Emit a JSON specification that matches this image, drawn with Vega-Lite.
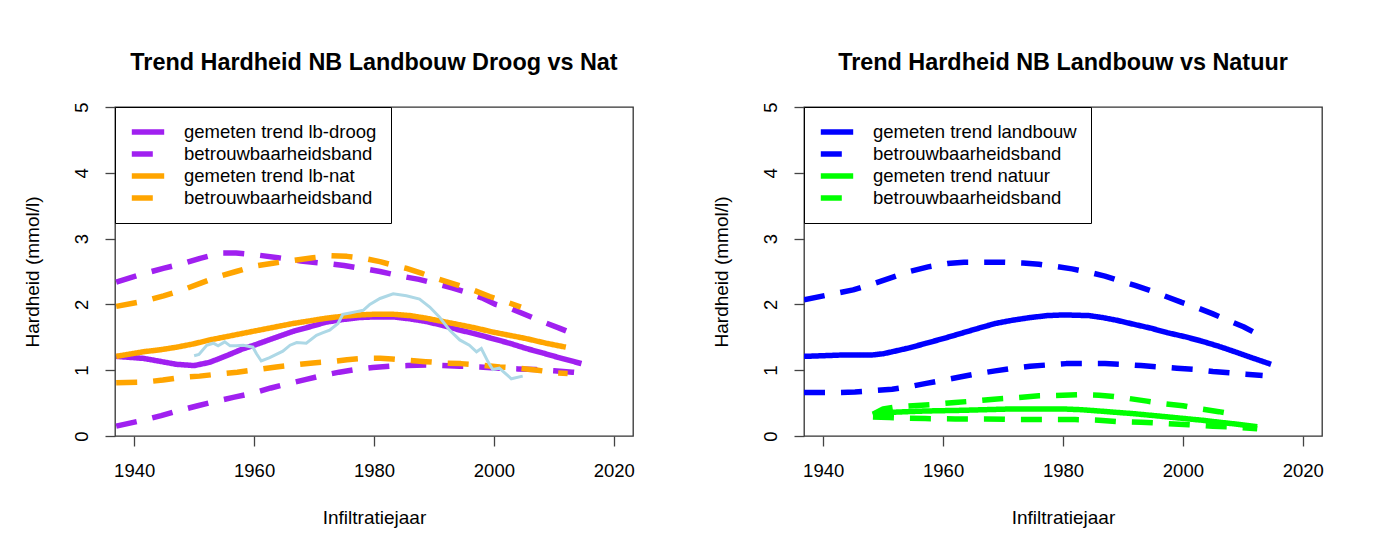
{
  "$schema": "https://vega.github.io/schema/vega-lite/v6.json",
  "background": "white",
  "padding": {"left": 22, "top": 50, "right": 5, "bottom": 5},
  "spacing": 75,
  "config": {
    "font": "Liberation Sans",
    "view": {"stroke": "#333", "strokeWidth": 1.3},
    "axis": {
      "grid": false, "domain": false, "tickSize": 10, "tickColor": "#444", "tickWidth": 1.3,
      "labelFontSize": 18.5, "labelColor": "black", "titleFontSize": 19, "titleFontWeight": "normal",
      "titleColor": "black", "labelFlush": false, "labelFont": "Liberation Sans", "titleFont": "Liberation Sans"
    },
    "legend": {
      "orient": "top-left", "offset": 0, "strokeColor": "black", "fillColor": "white",
      "padding": 14, "labelFontSize": 18.5, "labelFont": "Liberation Sans", "symbolType": "stroke",
      "symbolStrokeWidth": 5.5, "symbolSize": 1050, "rowPadding": 0, "clipHeight": 22, "labelOffset": 17, "labelLimit": 400
    },
    "title": {"fontSize": 23.4, "fontWeight": "bold", "font": "Liberation Sans", "anchor": "middle", "frame": "group", "baseline": "alphabetic", "offset": 26, "color": "black"}
  },
  "datasets": {
    "left": [
      {"line": "droog_trend", "s": "gemeten trend lb-droog", "x": 1937, "y": 1.21},
      {"line": "droog_trend", "s": "gemeten trend lb-droog", "x": 1941.5, "y": 1.18},
      {"line": "droog_trend", "s": "gemeten trend lb-droog", "x": 1944, "y": 1.14},
      {"line": "droog_trend", "s": "gemeten trend lb-droog", "x": 1947, "y": 1.09},
      {"line": "droog_trend", "s": "gemeten trend lb-droog", "x": 1950, "y": 1.07},
      {"line": "droog_trend", "s": "gemeten trend lb-droog", "x": 1952.6, "y": 1.12},
      {"line": "droog_trend", "s": "gemeten trend lb-droog", "x": 1955.4, "y": 1.22},
      {"line": "droog_trend", "s": "gemeten trend lb-droog", "x": 1958, "y": 1.32},
      {"line": "droog_trend", "s": "gemeten trend lb-droog", "x": 1960, "y": 1.38},
      {"line": "droog_trend", "s": "gemeten trend lb-droog", "x": 1963.7, "y": 1.5},
      {"line": "droog_trend", "s": "gemeten trend lb-droog", "x": 1966.5, "y": 1.59},
      {"line": "droog_trend", "s": "gemeten trend lb-droog", "x": 1969.3, "y": 1.66},
      {"line": "droog_trend", "s": "gemeten trend lb-droog", "x": 1972, "y": 1.73},
      {"line": "droog_trend", "s": "gemeten trend lb-droog", "x": 1974.8, "y": 1.77},
      {"line": "droog_trend", "s": "gemeten trend lb-droog", "x": 1977.6, "y": 1.8},
      {"line": "droog_trend", "s": "gemeten trend lb-droog", "x": 1980, "y": 1.81},
      {"line": "droog_trend", "s": "gemeten trend lb-droog", "x": 1983.2, "y": 1.81},
      {"line": "droog_trend", "s": "gemeten trend lb-droog", "x": 1986, "y": 1.78},
      {"line": "droog_trend", "s": "gemeten trend lb-droog", "x": 1988.7, "y": 1.74},
      {"line": "droog_trend", "s": "gemeten trend lb-droog", "x": 1991.5, "y": 1.68},
      {"line": "droog_trend", "s": "gemeten trend lb-droog", "x": 1994.3, "y": 1.61},
      {"line": "droog_trend", "s": "gemeten trend lb-droog", "x": 1997, "y": 1.55},
      {"line": "droog_trend", "s": "gemeten trend lb-droog", "x": 1999.8, "y": 1.48},
      {"line": "droog_trend", "s": "gemeten trend lb-droog", "x": 2002.6, "y": 1.41},
      {"line": "droog_trend", "s": "gemeten trend lb-droog", "x": 2005.4, "y": 1.33},
      {"line": "droog_trend", "s": "gemeten trend lb-droog", "x": 2008.2, "y": 1.26},
      {"line": "droog_trend", "s": "gemeten trend lb-droog", "x": 2010.9, "y": 1.19},
      {"line": "droog_trend", "s": "gemeten trend lb-droog", "x": 2014.6, "y": 1.1},

      {"line": "droog_upper", "s": "betrouwbaarheidsband 1", "x": 1937, "y": 2.34},
      {"line": "droog_upper", "s": "betrouwbaarheidsband 1", "x": 1941.7, "y": 2.47},
      {"line": "droog_upper", "s": "betrouwbaarheidsband 1", "x": 1945, "y": 2.55},
      {"line": "droog_upper", "s": "betrouwbaarheidsband 1", "x": 1948.1, "y": 2.62},
      {"line": "droog_upper", "s": "betrouwbaarheidsband 1", "x": 1951, "y": 2.7},
      {"line": "droog_upper", "s": "betrouwbaarheidsband 1", "x": 1954.5, "y": 2.78},
      {"line": "droog_upper", "s": "betrouwbaarheidsband 1", "x": 1957, "y": 2.78},
      {"line": "droog_upper", "s": "betrouwbaarheidsband 1", "x": 1960.6, "y": 2.75},
      {"line": "droog_upper", "s": "betrouwbaarheidsband 1", "x": 1964, "y": 2.71},
      {"line": "droog_upper", "s": "betrouwbaarheidsband 1", "x": 1967.8, "y": 2.66},
      {"line": "droog_upper", "s": "betrouwbaarheidsband 1", "x": 1972.2, "y": 2.62},
      {"line": "droog_upper", "s": "betrouwbaarheidsband 1", "x": 1975, "y": 2.59},
      {"line": "droog_upper", "s": "betrouwbaarheidsband 1", "x": 1977.8, "y": 2.55},
      {"line": "droog_upper", "s": "betrouwbaarheidsband 1", "x": 1981, "y": 2.5},
      {"line": "droog_upper", "s": "betrouwbaarheidsband 1", "x": 1984.5, "y": 2.43},
      {"line": "droog_upper", "s": "betrouwbaarheidsband 1", "x": 1987.5, "y": 2.38},
      {"line": "droog_upper", "s": "betrouwbaarheidsband 1", "x": 1990.1, "y": 2.32},
      {"line": "droog_upper", "s": "betrouwbaarheidsband 1", "x": 1993, "y": 2.25},
      {"line": "droog_upper", "s": "betrouwbaarheidsband 1", "x": 1995.3, "y": 2.19},
      {"line": "droog_upper", "s": "betrouwbaarheidsband 1", "x": 1998, "y": 2.1},
      {"line": "droog_upper", "s": "betrouwbaarheidsband 1", "x": 2000.3, "y": 2.0},
      {"line": "droog_upper", "s": "betrouwbaarheidsband 1", "x": 2003, "y": 1.93},
      {"line": "droog_upper", "s": "betrouwbaarheidsband 1", "x": 2005.4, "y": 1.84},
      {"line": "droog_upper", "s": "betrouwbaarheidsband 1", "x": 2008, "y": 1.74},
      {"line": "droog_upper", "s": "betrouwbaarheidsband 1", "x": 2010.9, "y": 1.64},
      {"line": "droog_upper", "s": "betrouwbaarheidsband 1", "x": 2012.5, "y": 1.58},

      {"line": "droog_lower", "s": "betrouwbaarheidsband 1", "x": 1937, "y": 0.15},
      {"line": "droog_lower", "s": "betrouwbaarheidsband 1", "x": 1941.5, "y": 0.24},
      {"line": "droog_lower", "s": "betrouwbaarheidsband 1", "x": 1944.5, "y": 0.31},
      {"line": "droog_lower", "s": "betrouwbaarheidsband 1", "x": 1947.6, "y": 0.39},
      {"line": "droog_lower", "s": "betrouwbaarheidsband 1", "x": 1950.6, "y": 0.46},
      {"line": "droog_lower", "s": "betrouwbaarheidsband 1", "x": 1953.7, "y": 0.53},
      {"line": "droog_lower", "s": "betrouwbaarheidsband 1", "x": 1956.7, "y": 0.59},
      {"line": "droog_lower", "s": "betrouwbaarheidsband 1", "x": 1959.8, "y": 0.65},
      {"line": "droog_lower", "s": "betrouwbaarheidsband 1", "x": 1962.8, "y": 0.73},
      {"line": "droog_lower", "s": "betrouwbaarheidsband 1", "x": 1965.9, "y": 0.8},
      {"line": "droog_lower", "s": "betrouwbaarheidsband 1", "x": 1968.7, "y": 0.86},
      {"line": "droog_lower", "s": "betrouwbaarheidsband 1", "x": 1971.4, "y": 0.92},
      {"line": "droog_lower", "s": "betrouwbaarheidsband 1", "x": 1974.2, "y": 0.97},
      {"line": "droog_lower", "s": "betrouwbaarheidsband 1", "x": 1977, "y": 1.01},
      {"line": "droog_lower", "s": "betrouwbaarheidsband 1", "x": 1979.8, "y": 1.04},
      {"line": "droog_lower", "s": "betrouwbaarheidsband 1", "x": 1982.6, "y": 1.06},
      {"line": "droog_lower", "s": "betrouwbaarheidsband 1", "x": 1985.6, "y": 1.07},
      {"line": "droog_lower", "s": "betrouwbaarheidsband 1", "x": 1988.7, "y": 1.08},
      {"line": "droog_lower", "s": "betrouwbaarheidsband 1", "x": 1991.5, "y": 1.07},
      {"line": "droog_lower", "s": "betrouwbaarheidsband 1", "x": 1994.3, "y": 1.06},
      {"line": "droog_lower", "s": "betrouwbaarheidsband 1", "x": 1997.6, "y": 1.05},
      {"line": "droog_lower", "s": "betrouwbaarheidsband 1", "x": 2000.9, "y": 1.03},
      {"line": "droog_lower", "s": "betrouwbaarheidsband 1", "x": 2004, "y": 1.02},
      {"line": "droog_lower", "s": "betrouwbaarheidsband 1", "x": 2007, "y": 1.01},
      {"line": "droog_lower", "s": "betrouwbaarheidsband 1", "x": 2010, "y": 0.99},
      {"line": "droog_lower", "s": "betrouwbaarheidsband 1", "x": 2013.1, "y": 0.97},
      {"line": "droog_lower", "s": "betrouwbaarheidsband 1", "x": 2014.3, "y": 0.96},

      {"line": "nat_trend", "s": "gemeten trend lb-nat", "x": 1937, "y": 1.21},
      {"line": "nat_trend", "s": "gemeten trend lb-nat", "x": 1941.5, "y": 1.28},
      {"line": "nat_trend", "s": "gemeten trend lb-nat", "x": 1944.3, "y": 1.31},
      {"line": "nat_trend", "s": "gemeten trend lb-nat", "x": 1947.1, "y": 1.35},
      {"line": "nat_trend", "s": "gemeten trend lb-nat", "x": 1949.9, "y": 1.4},
      {"line": "nat_trend", "s": "gemeten trend lb-nat", "x": 1952.6, "y": 1.46},
      {"line": "nat_trend", "s": "gemeten trend lb-nat", "x": 1955.4, "y": 1.51},
      {"line": "nat_trend", "s": "gemeten trend lb-nat", "x": 1958.1, "y": 1.56},
      {"line": "nat_trend", "s": "gemeten trend lb-nat", "x": 1960.9, "y": 1.61},
      {"line": "nat_trend", "s": "gemeten trend lb-nat", "x": 1963.7, "y": 1.66},
      {"line": "nat_trend", "s": "gemeten trend lb-nat", "x": 1966.5, "y": 1.71},
      {"line": "nat_trend", "s": "gemeten trend lb-nat", "x": 1969.3, "y": 1.75},
      {"line": "nat_trend", "s": "gemeten trend lb-nat", "x": 1972, "y": 1.79},
      {"line": "nat_trend", "s": "gemeten trend lb-nat", "x": 1974.8, "y": 1.82},
      {"line": "nat_trend", "s": "gemeten trend lb-nat", "x": 1977.6, "y": 1.84},
      {"line": "nat_trend", "s": "gemeten trend lb-nat", "x": 1980, "y": 1.85},
      {"line": "nat_trend", "s": "gemeten trend lb-nat", "x": 1983.2, "y": 1.85},
      {"line": "nat_trend", "s": "gemeten trend lb-nat", "x": 1986, "y": 1.83},
      {"line": "nat_trend", "s": "gemeten trend lb-nat", "x": 1988.7, "y": 1.79},
      {"line": "nat_trend", "s": "gemeten trend lb-nat", "x": 1991.5, "y": 1.74},
      {"line": "nat_trend", "s": "gemeten trend lb-nat", "x": 1994.3, "y": 1.69},
      {"line": "nat_trend", "s": "gemeten trend lb-nat", "x": 1997, "y": 1.64},
      {"line": "nat_trend", "s": "gemeten trend lb-nat", "x": 1999.8, "y": 1.58},
      {"line": "nat_trend", "s": "gemeten trend lb-nat", "x": 2002.6, "y": 1.53},
      {"line": "nat_trend", "s": "gemeten trend lb-nat", "x": 2005.4, "y": 1.48},
      {"line": "nat_trend", "s": "gemeten trend lb-nat", "x": 2008.7, "y": 1.41},
      {"line": "nat_trend", "s": "gemeten trend lb-nat", "x": 2012, "y": 1.35},

      {"line": "nat_upper", "s": "betrouwbaarheidsband 2", "x": 1937, "y": 1.97},
      {"line": "nat_upper", "s": "betrouwbaarheidsband 2", "x": 1941.7, "y": 2.05},
      {"line": "nat_upper", "s": "betrouwbaarheidsband 2", "x": 1944.9, "y": 2.13},
      {"line": "nat_upper", "s": "betrouwbaarheidsband 2", "x": 1948.1, "y": 2.22},
      {"line": "nat_upper", "s": "betrouwbaarheidsband 2", "x": 1951, "y": 2.32},
      {"line": "nat_upper", "s": "betrouwbaarheidsband 2", "x": 1954, "y": 2.42},
      {"line": "nat_upper", "s": "betrouwbaarheidsband 2", "x": 1957, "y": 2.5},
      {"line": "nat_upper", "s": "betrouwbaarheidsband 2", "x": 1960, "y": 2.58},
      {"line": "nat_upper", "s": "betrouwbaarheidsband 2", "x": 1963.4, "y": 2.63},
      {"line": "nat_upper", "s": "betrouwbaarheidsband 2", "x": 1966.7, "y": 2.67},
      {"line": "nat_upper", "s": "betrouwbaarheidsband 2", "x": 1969.8, "y": 2.71},
      {"line": "nat_upper", "s": "betrouwbaarheidsband 2", "x": 1972.8, "y": 2.74},
      {"line": "nat_upper", "s": "betrouwbaarheidsband 2", "x": 1975.5, "y": 2.73},
      {"line": "nat_upper", "s": "betrouwbaarheidsband 2", "x": 1978.3, "y": 2.7},
      {"line": "nat_upper", "s": "betrouwbaarheidsband 2", "x": 1981, "y": 2.65},
      {"line": "nat_upper", "s": "betrouwbaarheidsband 2", "x": 1983, "y": 2.6},
      {"line": "nat_upper", "s": "betrouwbaarheidsband 2", "x": 1985.3, "y": 2.55},
      {"line": "nat_upper", "s": "betrouwbaarheidsband 2", "x": 1988, "y": 2.47},
      {"line": "nat_upper", "s": "betrouwbaarheidsband 2", "x": 1990.9, "y": 2.38},
      {"line": "nat_upper", "s": "betrouwbaarheidsband 2", "x": 1993.7, "y": 2.3},
      {"line": "nat_upper", "s": "betrouwbaarheidsband 2", "x": 1996.5, "y": 2.22},
      {"line": "nat_upper", "s": "betrouwbaarheidsband 2", "x": 1999.3, "y": 2.12},
      {"line": "nat_upper", "s": "betrouwbaarheidsband 2", "x": 2002, "y": 2.04},
      {"line": "nat_upper", "s": "betrouwbaarheidsband 2", "x": 2004.5, "y": 1.96},

      {"line": "nat_lower", "s": "betrouwbaarheidsband 2", "x": 1937, "y": 0.81},
      {"line": "nat_lower", "s": "betrouwbaarheidsband 2", "x": 1941.7, "y": 0.82},
      {"line": "nat_lower", "s": "betrouwbaarheidsband 2", "x": 1944.8, "y": 0.85},
      {"line": "nat_lower", "s": "betrouwbaarheidsband 2", "x": 1947.8, "y": 0.89},
      {"line": "nat_lower", "s": "betrouwbaarheidsband 2", "x": 1950.9, "y": 0.91},
      {"line": "nat_lower", "s": "betrouwbaarheidsband 2", "x": 1953.9, "y": 0.94},
      {"line": "nat_lower", "s": "betrouwbaarheidsband 2", "x": 1957.2, "y": 0.97},
      {"line": "nat_lower", "s": "betrouwbaarheidsband 2", "x": 1960.6, "y": 1.01},
      {"line": "nat_lower", "s": "betrouwbaarheidsband 2", "x": 1963.7, "y": 1.05},
      {"line": "nat_lower", "s": "betrouwbaarheidsband 2", "x": 1966.7, "y": 1.08},
      {"line": "nat_lower", "s": "betrouwbaarheidsband 2", "x": 1969.8, "y": 1.11},
      {"line": "nat_lower", "s": "betrouwbaarheidsband 2", "x": 1972.8, "y": 1.13},
      {"line": "nat_lower", "s": "betrouwbaarheidsband 2", "x": 1975.5, "y": 1.16},
      {"line": "nat_lower", "s": "betrouwbaarheidsband 2", "x": 1978.3, "y": 1.18},
      {"line": "nat_lower", "s": "betrouwbaarheidsband 2", "x": 1981, "y": 1.18},
      {"line": "nat_lower", "s": "betrouwbaarheidsband 2", "x": 1983, "y": 1.17},
      {"line": "nat_lower", "s": "betrouwbaarheidsband 2", "x": 1985.6, "y": 1.15},
      {"line": "nat_lower", "s": "betrouwbaarheidsband 2", "x": 1988.6, "y": 1.13},
      {"line": "nat_lower", "s": "betrouwbaarheidsband 2", "x": 1991.5, "y": 1.11},
      {"line": "nat_lower", "s": "betrouwbaarheidsband 2", "x": 1994.5, "y": 1.1},
      {"line": "nat_lower", "s": "betrouwbaarheidsband 2", "x": 1997.6, "y": 1.08},
      {"line": "nat_lower", "s": "betrouwbaarheidsband 2", "x": 2001, "y": 1.05},
      {"line": "nat_lower", "s": "betrouwbaarheidsband 2", "x": 2004.3, "y": 1.03},
      {"line": "nat_lower", "s": "betrouwbaarheidsband 2", "x": 2007.3, "y": 1.0},
      {"line": "nat_lower", "s": "betrouwbaarheidsband 2", "x": 2010.4, "y": 0.96},
      {"line": "nat_lower", "s": "betrouwbaarheidsband 2", "x": 2012.3, "y": 0.95}
    ],
    "obs": [
      {"x": 1950.0, "y": 1.22}, {"x": 1950.8, "y": 1.24}, {"x": 1952.1, "y": 1.38}, {"x": 1953.2, "y": 1.41},
      {"x": 1954.0, "y": 1.37}, {"x": 1955.1, "y": 1.43}, {"x": 1956.0, "y": 1.37}, {"x": 1957.0, "y": 1.37},
      {"x": 1958.2, "y": 1.38}, {"x": 1959.8, "y": 1.35}, {"x": 1960.4, "y": 1.25}, {"x": 1961.2, "y": 1.14},
      {"x": 1962.6, "y": 1.19}, {"x": 1964.8, "y": 1.29}, {"x": 1966.0, "y": 1.38}, {"x": 1967.1, "y": 1.42},
      {"x": 1968.7, "y": 1.41}, {"x": 1970.4, "y": 1.53}, {"x": 1971.5, "y": 1.57}, {"x": 1972.6, "y": 1.61},
      {"x": 1974.0, "y": 1.71}, {"x": 1974.8, "y": 1.85}, {"x": 1976.0, "y": 1.87}, {"x": 1977.1, "y": 1.89},
      {"x": 1978.2, "y": 1.91}, {"x": 1979.3, "y": 2.0}, {"x": 1981.0, "y": 2.09}, {"x": 1983.2, "y": 2.16},
      {"x": 1985.4, "y": 2.13}, {"x": 1987.6, "y": 2.08}, {"x": 1989.3, "y": 1.96}, {"x": 1990.9, "y": 1.81},
      {"x": 1992.6, "y": 1.61}, {"x": 1994.3, "y": 1.46}, {"x": 1995.9, "y": 1.38}, {"x": 1997.1, "y": 1.28},
      {"x": 1997.9, "y": 1.33}, {"x": 1999.0, "y": 1.13}, {"x": 1999.8, "y": 1.01}, {"x": 2000.9, "y": 1.03},
      {"x": 2002.9, "y": 0.87}, {"x": 2004.8, "y": 0.91}
    ],
    "right": [
      {"line": "land_trend", "s": "gemeten trend landbouw", "x": 1936.8, "y": 1.21},
      {"line": "land_trend", "s": "gemeten trend landbouw", "x": 1940, "y": 1.22},
      {"line": "land_trend", "s": "gemeten trend landbouw", "x": 1942.9, "y": 1.23},
      {"line": "land_trend", "s": "gemeten trend landbouw", "x": 1948, "y": 1.23},
      {"line": "land_trend", "s": "gemeten trend landbouw", "x": 1950, "y": 1.25},
      {"line": "land_trend", "s": "gemeten trend landbouw", "x": 1951.5, "y": 1.28},
      {"line": "land_trend", "s": "gemeten trend landbouw", "x": 1954.4, "y": 1.34},
      {"line": "land_trend", "s": "gemeten trend landbouw", "x": 1957.2, "y": 1.41},
      {"line": "land_trend", "s": "gemeten trend landbouw", "x": 1960, "y": 1.48},
      {"line": "land_trend", "s": "gemeten trend landbouw", "x": 1963, "y": 1.56},
      {"line": "land_trend", "s": "gemeten trend landbouw", "x": 1966, "y": 1.64},
      {"line": "land_trend", "s": "gemeten trend landbouw", "x": 1968.7, "y": 1.71},
      {"line": "land_trend", "s": "gemeten trend landbouw", "x": 1971.6, "y": 1.76},
      {"line": "land_trend", "s": "gemeten trend landbouw", "x": 1974.5, "y": 1.8},
      {"line": "land_trend", "s": "gemeten trend landbouw", "x": 1977.4, "y": 1.83},
      {"line": "land_trend", "s": "gemeten trend landbouw", "x": 1980.2, "y": 1.84},
      {"line": "land_trend", "s": "gemeten trend landbouw", "x": 1984.3, "y": 1.83},
      {"line": "land_trend", "s": "gemeten trend landbouw", "x": 1986.6, "y": 1.8},
      {"line": "land_trend", "s": "gemeten trend landbouw", "x": 1988.9, "y": 1.76},
      {"line": "land_trend", "s": "gemeten trend landbouw", "x": 1991.7, "y": 1.7},
      {"line": "land_trend", "s": "gemeten trend landbouw", "x": 1994.6, "y": 1.64},
      {"line": "land_trend", "s": "gemeten trend landbouw", "x": 1997.4, "y": 1.57},
      {"line": "land_trend", "s": "gemeten trend landbouw", "x": 2000.3, "y": 1.51},
      {"line": "land_trend", "s": "gemeten trend landbouw", "x": 2003.2, "y": 1.44},
      {"line": "land_trend", "s": "gemeten trend landbouw", "x": 2006.1, "y": 1.36},
      {"line": "land_trend", "s": "gemeten trend landbouw", "x": 2009, "y": 1.27},
      {"line": "land_trend", "s": "gemeten trend landbouw", "x": 2011.8, "y": 1.18},
      {"line": "land_trend", "s": "gemeten trend landbouw", "x": 2014.7, "y": 1.09},

      {"line": "land_upper", "s": "betrouwbaarheidsband 1", "x": 1936.8, "y": 2.07},
      {"line": "land_upper", "s": "betrouwbaarheidsband 1", "x": 1941.7, "y": 2.16},
      {"line": "land_upper", "s": "betrouwbaarheidsband 1", "x": 1945, "y": 2.22},
      {"line": "land_upper", "s": "betrouwbaarheidsband 1", "x": 1948.6, "y": 2.32},
      {"line": "land_upper", "s": "betrouwbaarheidsband 1", "x": 1951.5, "y": 2.41},
      {"line": "land_upper", "s": "betrouwbaarheidsband 1", "x": 1954.4, "y": 2.5},
      {"line": "land_upper", "s": "betrouwbaarheidsband 1", "x": 1957.5, "y": 2.57},
      {"line": "land_upper", "s": "betrouwbaarheidsband 1", "x": 1960.7, "y": 2.62},
      {"line": "land_upper", "s": "betrouwbaarheidsband 1", "x": 1963.5, "y": 2.64},
      {"line": "land_upper", "s": "betrouwbaarheidsband 1", "x": 1966.4, "y": 2.64},
      {"line": "land_upper", "s": "betrouwbaarheidsband 1", "x": 1970, "y": 2.64},
      {"line": "land_upper", "s": "betrouwbaarheidsband 1", "x": 1973.3, "y": 2.63},
      {"line": "land_upper", "s": "betrouwbaarheidsband 1", "x": 1976, "y": 2.61},
      {"line": "land_upper", "s": "betrouwbaarheidsband 1", "x": 1978.5, "y": 2.58},
      {"line": "land_upper", "s": "betrouwbaarheidsband 1", "x": 1981.5, "y": 2.54},
      {"line": "land_upper", "s": "betrouwbaarheidsband 1", "x": 1984.3, "y": 2.49},
      {"line": "land_upper", "s": "betrouwbaarheidsband 1", "x": 1987, "y": 2.43},
      {"line": "land_upper", "s": "betrouwbaarheidsband 1", "x": 1989.4, "y": 2.36},
      {"line": "land_upper", "s": "betrouwbaarheidsband 1", "x": 1992, "y": 2.29},
      {"line": "land_upper", "s": "betrouwbaarheidsband 1", "x": 1994.6, "y": 2.21},
      {"line": "land_upper", "s": "betrouwbaarheidsband 1", "x": 1997.2, "y": 2.12},
      {"line": "land_upper", "s": "betrouwbaarheidsband 1", "x": 1999.8, "y": 2.03},
      {"line": "land_upper", "s": "betrouwbaarheidsband 1", "x": 2002.4, "y": 1.95},
      {"line": "land_upper", "s": "betrouwbaarheidsband 1", "x": 2004.9, "y": 1.86},
      {"line": "land_upper", "s": "betrouwbaarheidsband 1", "x": 2007.5, "y": 1.76},
      {"line": "land_upper", "s": "betrouwbaarheidsband 1", "x": 2010.1, "y": 1.66},
      {"line": "land_upper", "s": "betrouwbaarheidsband 1", "x": 2011.8, "y": 1.58},

      {"line": "land_lower", "s": "betrouwbaarheidsband 1", "x": 1936.8, "y": 0.66},
      {"line": "land_lower", "s": "betrouwbaarheidsband 1", "x": 1942, "y": 0.66},
      {"line": "land_lower", "s": "betrouwbaarheidsband 1", "x": 1945.3, "y": 0.67},
      {"line": "land_lower", "s": "betrouwbaarheidsband 1", "x": 1948.6, "y": 0.69},
      {"line": "land_lower", "s": "betrouwbaarheidsband 1", "x": 1951.5, "y": 0.71},
      {"line": "land_lower", "s": "betrouwbaarheidsband 1", "x": 1954.4, "y": 0.75},
      {"line": "land_lower", "s": "betrouwbaarheidsband 1", "x": 1957.2, "y": 0.8},
      {"line": "land_lower", "s": "betrouwbaarheidsband 1", "x": 1960.1, "y": 0.85},
      {"line": "land_lower", "s": "betrouwbaarheidsband 1", "x": 1963, "y": 0.9},
      {"line": "land_lower", "s": "betrouwbaarheidsband 1", "x": 1965.9, "y": 0.95},
      {"line": "land_lower", "s": "betrouwbaarheidsband 1", "x": 1968.7, "y": 0.99},
      {"line": "land_lower", "s": "betrouwbaarheidsband 1", "x": 1971.6, "y": 1.03},
      {"line": "land_lower", "s": "betrouwbaarheidsband 1", "x": 1974.5, "y": 1.06},
      {"line": "land_lower", "s": "betrouwbaarheidsband 1", "x": 1977.4, "y": 1.08},
      {"line": "land_lower", "s": "betrouwbaarheidsband 1", "x": 1980.5, "y": 1.1},
      {"line": "land_lower", "s": "betrouwbaarheidsband 1", "x": 1983.7, "y": 1.1},
      {"line": "land_lower", "s": "betrouwbaarheidsband 1", "x": 1987, "y": 1.1},
      {"line": "land_lower", "s": "betrouwbaarheidsband 1", "x": 1990, "y": 1.09},
      {"line": "land_lower", "s": "betrouwbaarheidsband 1", "x": 1993, "y": 1.07},
      {"line": "land_lower", "s": "betrouwbaarheidsband 1", "x": 1996, "y": 1.05},
      {"line": "land_lower", "s": "betrouwbaarheidsband 1", "x": 1999, "y": 1.03},
      {"line": "land_lower", "s": "betrouwbaarheidsband 1", "x": 2002.1, "y": 1.01},
      {"line": "land_lower", "s": "betrouwbaarheidsband 1", "x": 2005, "y": 0.98},
      {"line": "land_lower", "s": "betrouwbaarheidsband 1", "x": 2007.8, "y": 0.96},
      {"line": "land_lower", "s": "betrouwbaarheidsband 1", "x": 2010.5, "y": 0.94},
      {"line": "land_lower", "s": "betrouwbaarheidsband 1", "x": 2013.3, "y": 0.92},

      {"line": "natuur_trend", "s": "gemeten trend natuur", "x": 1948.3, "y": 0.31},
      {"line": "natuur_trend", "s": "gemeten trend natuur", "x": 1950, "y": 0.34},
      {"line": "natuur_trend", "s": "gemeten trend natuur", "x": 1951.5, "y": 0.36},
      {"line": "natuur_trend", "s": "gemeten trend natuur", "x": 1954, "y": 0.37},
      {"line": "natuur_trend", "s": "gemeten trend natuur", "x": 1957.2, "y": 0.38},
      {"line": "natuur_trend", "s": "gemeten trend natuur", "x": 1960, "y": 0.385},
      {"line": "natuur_trend", "s": "gemeten trend natuur", "x": 1963, "y": 0.39},
      {"line": "natuur_trend", "s": "gemeten trend natuur", "x": 1967, "y": 0.4},
      {"line": "natuur_trend", "s": "gemeten trend natuur", "x": 1971, "y": 0.41},
      {"line": "natuur_trend", "s": "gemeten trend natuur", "x": 1975, "y": 0.41},
      {"line": "natuur_trend", "s": "gemeten trend natuur", "x": 1980.2, "y": 0.41},
      {"line": "natuur_trend", "s": "gemeten trend natuur", "x": 1983, "y": 0.4},
      {"line": "natuur_trend", "s": "gemeten trend natuur", "x": 1986, "y": 0.38},
      {"line": "natuur_trend", "s": "gemeten trend natuur", "x": 1988.8, "y": 0.36},
      {"line": "natuur_trend", "s": "gemeten trend natuur", "x": 1991.7, "y": 0.34},
      {"line": "natuur_trend", "s": "gemeten trend natuur", "x": 1994.6, "y": 0.315},
      {"line": "natuur_trend", "s": "gemeten trend natuur", "x": 1997.5, "y": 0.29},
      {"line": "natuur_trend", "s": "gemeten trend natuur", "x": 2000.3, "y": 0.265},
      {"line": "natuur_trend", "s": "gemeten trend natuur", "x": 2003.2, "y": 0.24},
      {"line": "natuur_trend", "s": "gemeten trend natuur", "x": 2006, "y": 0.21},
      {"line": "natuur_trend", "s": "gemeten trend natuur", "x": 2009, "y": 0.18},
      {"line": "natuur_trend", "s": "gemeten trend natuur", "x": 2012.4, "y": 0.14},

      {"line": "natuur_upper", "s": "betrouwbaarheidsband 2", "x": 1948.3, "y": 0.33},
      {"line": "natuur_upper", "s": "betrouwbaarheidsband 2", "x": 1950, "y": 0.41},
      {"line": "natuur_upper", "s": "betrouwbaarheidsband 2", "x": 1952, "y": 0.44},
      {"line": "natuur_upper", "s": "betrouwbaarheidsband 2", "x": 1955, "y": 0.46},
      {"line": "natuur_upper", "s": "betrouwbaarheidsband 2", "x": 1958.5, "y": 0.48},
      {"line": "natuur_upper", "s": "betrouwbaarheidsband 2", "x": 1962, "y": 0.51},
      {"line": "natuur_upper", "s": "betrouwbaarheidsband 2", "x": 1965, "y": 0.53},
      {"line": "natuur_upper", "s": "betrouwbaarheidsband 2", "x": 1968.5, "y": 0.56},
      {"line": "natuur_upper", "s": "betrouwbaarheidsband 2", "x": 1972, "y": 0.58},
      {"line": "natuur_upper", "s": "betrouwbaarheidsband 2", "x": 1976, "y": 0.61},
      {"line": "natuur_upper", "s": "betrouwbaarheidsband 2", "x": 1980, "y": 0.62},
      {"line": "natuur_upper", "s": "betrouwbaarheidsband 2", "x": 1983, "y": 0.63},
      {"line": "natuur_upper", "s": "betrouwbaarheidsband 2", "x": 1986, "y": 0.62},
      {"line": "natuur_upper", "s": "betrouwbaarheidsband 2", "x": 1988.5, "y": 0.6},
      {"line": "natuur_upper", "s": "betrouwbaarheidsband 2", "x": 1991, "y": 0.57},
      {"line": "natuur_upper", "s": "betrouwbaarheidsband 2", "x": 1994, "y": 0.53},
      {"line": "natuur_upper", "s": "betrouwbaarheidsband 2", "x": 1997, "y": 0.49},
      {"line": "natuur_upper", "s": "betrouwbaarheidsband 2", "x": 2000, "y": 0.46},
      {"line": "natuur_upper", "s": "betrouwbaarheidsband 2", "x": 2003, "y": 0.41},
      {"line": "natuur_upper", "s": "betrouwbaarheidsband 2", "x": 2006, "y": 0.37},
      {"line": "natuur_upper", "s": "betrouwbaarheidsband 2", "x": 2008.5, "y": 0.33},

      {"line": "natuur_lower", "s": "betrouwbaarheidsband 2", "x": 1948.3, "y": 0.29},
      {"line": "natuur_lower", "s": "betrouwbaarheidsband 2", "x": 1951, "y": 0.28},
      {"line": "natuur_lower", "s": "betrouwbaarheidsband 2", "x": 1954, "y": 0.27},
      {"line": "natuur_lower", "s": "betrouwbaarheidsband 2", "x": 1957, "y": 0.265},
      {"line": "natuur_lower", "s": "betrouwbaarheidsband 2", "x": 1962, "y": 0.26},
      {"line": "natuur_lower", "s": "betrouwbaarheidsband 2", "x": 1967, "y": 0.26},
      {"line": "natuur_lower", "s": "betrouwbaarheidsband 2", "x": 1972, "y": 0.25},
      {"line": "natuur_lower", "s": "betrouwbaarheidsband 2", "x": 1977, "y": 0.25},
      {"line": "natuur_lower", "s": "betrouwbaarheidsband 2", "x": 1982, "y": 0.25},
      {"line": "natuur_lower", "s": "betrouwbaarheidsband 2", "x": 1986, "y": 0.24},
      {"line": "natuur_lower", "s": "betrouwbaarheidsband 2", "x": 1989, "y": 0.22},
      {"line": "natuur_lower", "s": "betrouwbaarheidsband 2", "x": 1993, "y": 0.21},
      {"line": "natuur_lower", "s": "betrouwbaarheidsband 2", "x": 1997, "y": 0.19},
      {"line": "natuur_lower", "s": "betrouwbaarheidsband 2", "x": 2001, "y": 0.17},
      {"line": "natuur_lower", "s": "betrouwbaarheidsband 2", "x": 2005, "y": 0.15},
      {"line": "natuur_lower", "s": "betrouwbaarheidsband 2", "x": 2008, "y": 0.14},
      {"line": "natuur_lower", "s": "betrouwbaarheidsband 2", "x": 2012.4, "y": 0.11}
    ]
  },
  "resolve": {
    "scale": {"color": "independent", "strokeDash": "independent", "x": "independent", "y": "independent"},
    "legend": {"color": "independent", "strokeDash": "independent"}
  },
  "hconcat": [
    {
      "width": 518, "height": 329,
      "title": {"text": "Trend Hardheid NB Landbouw Droog vs Nat"},
      "layer": [
        {
          "data": {"name": "left"},
          "mark": {"type": "line", "strokeWidth": 5.5, "strokeCap": "butt", "strokeJoin": "round", "clip": true},
          "encoding": {
            "x": {"field": "x", "type": "quantitative", "scale": {"domain": [1936.8, 2023.2], "nice": false, "zero": false},
                  "axis": {"values": [1940, 1960, 1980, 2000, 2020], "format": "d", "title": "Infiltratiejaar", "labelPadding": 15, "titlePadding": 29}},
            "y": {"field": "y", "type": "quantitative", "scale": {"domain": [0, 5], "nice": false, "zero": false},
                  "axis": {"values": [0, 1, 2, 3, 4, 5], "format": "d", "title": "Hardheid (mmol/l)", "labelAngle": -90, "labelAlign": "center", "labelBaseline": "bottom", "labelPadding": 14, "titlePadding": 30}},
            "color": {"field": "s", "type": "nominal",
                      "scale": {"domain": ["gemeten trend lb-droog", "betrouwbaarheidsband 1", "gemeten trend lb-nat", "betrouwbaarheidsband 2"], "range": ["#A020F0", "#A020F0", "#FFA500", "#FFA500"]},
                      "legend": {"title": null, "labelExpr": "indexof(datum.label, 'betrouw') == 0 ? 'betrouwbaarheidsband' : datum.label"}},
            "strokeDash": {"field": "s", "type": "nominal",
                      "scale": {"domain": ["gemeten trend lb-droog", "betrouwbaarheidsband 1", "gemeten trend lb-nat", "betrouwbaarheidsband 2"], "range": [[1, 0], [21, 16], [1, 0], [21, 16]]},
                      "legend": {"title": null, "labelExpr": "indexof(datum.label, 'betrouw') == 0 ? 'betrouwbaarheidsband' : datum.label"}},
            "detail": {"field": "line", "type": "nominal"},
            "order": {"field": "x", "type": "quantitative"}
          }
        },
        {
          "data": {"name": "obs"},
          "mark": {"type": "line", "strokeWidth": 3, "color": "#ADD8E6", "clip": true},
          "encoding": {
            "x": {"field": "x", "type": "quantitative"},
            "y": {"field": "y", "type": "quantitative"}
          }
        }
      ]
    },
    {
      "width": 518, "height": 329,
      "title": {"text": "Trend Hardheid NB Landbouw vs Natuur"},
      "layer": [
        {
          "data": {"name": "right"},
          "mark": {"type": "line", "strokeWidth": 5.5, "strokeCap": "butt", "strokeJoin": "round", "clip": true},
          "encoding": {
            "x": {"field": "x", "type": "quantitative", "scale": {"domain": [1936.8, 2023.2], "nice": false, "zero": false},
                  "axis": {"values": [1940, 1960, 1980, 2000, 2020], "format": "d", "title": "Infiltratiejaar", "labelPadding": 15, "titlePadding": 29}},
            "y": {"field": "y", "type": "quantitative", "scale": {"domain": [0, 5], "nice": false, "zero": false},
                  "axis": {"values": [0, 1, 2, 3, 4, 5], "format": "d", "title": "Hardheid (mmol/l)", "labelAngle": -90, "labelAlign": "center", "labelBaseline": "bottom", "labelPadding": 14, "titlePadding": 30}},
            "color": {"field": "s", "type": "nominal",
                      "scale": {"domain": ["gemeten trend landbouw", "betrouwbaarheidsband 1", "gemeten trend natuur", "betrouwbaarheidsband 2"], "range": ["#0000FF", "#0000FF", "#00FF00", "#00FF00"]},
                      "legend": {"title": null, "labelExpr": "indexof(datum.label, 'betrouw') == 0 ? 'betrouwbaarheidsband' : datum.label"}},
            "strokeDash": {"field": "s", "type": "nominal",
                      "scale": {"domain": ["gemeten trend landbouw", "betrouwbaarheidsband 1", "gemeten trend natuur", "betrouwbaarheidsband 2"], "range": [[1, 0], [21, 16], [1, 0], [21, 16]]},
                      "legend": {"title": null, "labelExpr": "indexof(datum.label, 'betrouw') == 0 ? 'betrouwbaarheidsband' : datum.label"}},
            "detail": {"field": "line", "type": "nominal"},
            "order": {"field": "x", "type": "quantitative"}
          }
        }
      ]
    }
  ]
}
